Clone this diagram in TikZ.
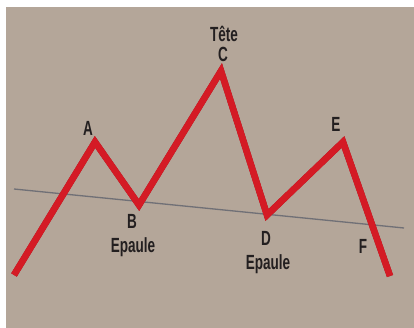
\documentclass[tikz,border=0pt]{standalone}
\usepackage{fontspec}
\setmainfont{Liberation Sans}[FakeStretch=0.66]
\usepackage{tikz}
\usetikzlibrary{positioning,calc}
\definecolor{bgtaupe}{RGB}{180,166,153}
\definecolor{rfront}{RGB}{212,27,37}
\definecolor{rside}{RGB}{160,12,22}
\definecolor{neck}{RGB}{112,112,118}
\definecolor{ink}{RGB}{35,31,32}
\tikzset{
  lab/.style ={font=\fontsize{20.5}{21}\selectfont\bfseries,text=ink,inner sep=0pt,anchor=base},
  side/.style={rside,line width=6.5pt,line join=miter,miter limit=8},
  front/.style={rfront,line width=6.5pt,line join=miter,miter limit=8},
  neckline/.style={neck,line width=1.3pt},
}
\begin{document}
\begin{tikzpicture}[x=1pt,y=-1pt]
  \useasboundingbox (0,0) rectangle (414,328);
  \fill[bgtaupe] (6,7) rectangle (414,328);
  % points of the pattern
  \coordinate (s) at (14,275);
  \coordinate (a) at (95,142);
  \coordinate (b) at (139,205);
  \coordinate (c) at (221,71);
  \coordinate (d) at (267,215);
  \coordinate (e) at (343,142);
  \coordinate (f) at (390,276);
  % neckline
  \coordinate (n1) at (14,189);
  \coordinate (n2) at (404,228);
  \draw[neckline] (n1) -- (n2);
  % extruded ribbon
  \draw[side,shift={(3,1.5)}] (s) -- (a) -- (b) -- (c) -- (d) -- (e) -- (f);
  \draw[front] (s) -- (a) -- (b) -- (c) -- (d) -- (e) -- (f);
  % labels
  \node[lab] (ltete) at (224,42) {Tête};
  \node[lab] (lc) at (223,62) {C};
  \node[lab] (la) at (88,136) {A};
  \node[lab] (lb) at (132,229) {B};
  \node[lab] (lep1) at (133,252) {Epaule};
  \node[lab] (ld) at (266,245) {D};
  \node[lab] (lep2) at (268,269) {Epaule};
  \node[lab] (le) at (336,132) {E};
  \node[lab] (lf) at (363,253) {F};
\end{tikzpicture}
\end{document}
